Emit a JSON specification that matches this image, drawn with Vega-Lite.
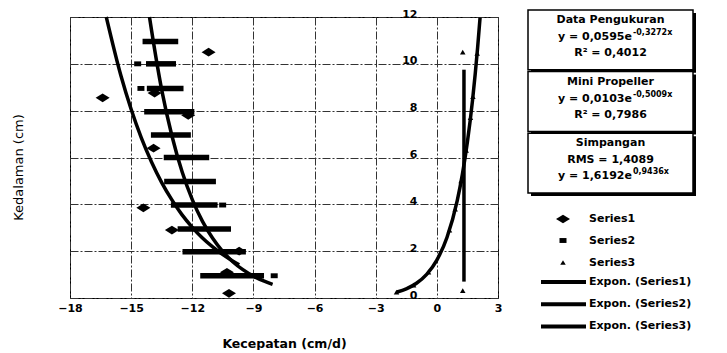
{
  "$schema": "https://vega.github.io/schema/vega-lite/v6.json",
  "background": "white",
  "padding": {"left": 11, "top": 7, "right": 0, "bottom": 0},
  "bounds": "flush",
  "spacing": 30,
  "config": {
    "font": "DejaVu Sans",
    "view": {"stroke": null},
    "axis": {"labelColor": "black", "titleColor": "black"},
    "legend": {"labelColor": "black"},
    "text": {"fontSize": 11, "fontWeight": "bold", "baseline": "middle", "color": "black"}
  },
  "datasets": {
    "bars": [
      {"y": 10.95, "xlo": -14.44, "xhi": -12.69},
      {"y": 10.0, "xlo": -14.27, "xhi": -12.8},
      {"y": 8.95, "xlo": -14.23, "xhi": -12.43},
      {"y": 7.95, "xlo": -14.36, "xhi": -11.9},
      {"y": 6.96, "xlo": -14.03, "xhi": -12.07},
      {"y": 6.0, "xlo": -13.4, "xhi": -11.17},
      {"y": 4.97, "xlo": -13.38, "xhi": -10.84},
      {"y": 3.97, "xlo": -13.05, "xhi": -10.76},
      {"y": 2.95, "xlo": -12.72, "xhi": -10.1},
      {"y": 1.98, "xlo": -12.48, "xhi": -9.37},
      {"y": 0.95, "xlo": -11.61, "xhi": -8.48}
    ],
    "vline": [{"x": 1.33, "ylo": 0.7, "yhi": 9.75}],
    "curves": [
      {"trend": "Expon. (Series1)", "x": -16.22, "y": 12.0},
      {"trend": "Expon. (Series1)", "x": -15.5, "y": 9.49},
      {"trend": "Expon. (Series1)", "x": -15, "y": 8.06},
      {"trend": "Expon. (Series1)", "x": -14.5, "y": 6.84},
      {"trend": "Expon. (Series1)", "x": -14, "y": 5.81},
      {"trend": "Expon. (Series1)", "x": -13.5, "y": 4.93},
      {"trend": "Expon. (Series1)", "x": -13, "y": 4.19},
      {"trend": "Expon. (Series1)", "x": -12.5, "y": 3.55},
      {"trend": "Expon. (Series1)", "x": -12, "y": 3.02},
      {"trend": "Expon. (Series1)", "x": -11.5, "y": 2.56},
      {"trend": "Expon. (Series1)", "x": -11, "y": 2.18},
      {"trend": "Expon. (Series1)", "x": -10.5, "y": 1.85},
      {"trend": "Expon. (Series1)", "x": -10, "y": 1.57},
      {"trend": "Expon. (Series1)", "x": -9.7, "y": 1.42},
      {"trend": "Expon. (Series2)", "x": -14.1, "y": 12.0},
      {"trend": "Expon. (Series2)", "x": -14, "y": 11.44},
      {"trend": "Expon. (Series2)", "x": -13.5, "y": 8.89},
      {"trend": "Expon. (Series2)", "x": -13, "y": 6.93},
      {"trend": "Expon. (Series2)", "x": -12.5, "y": 5.39},
      {"trend": "Expon. (Series2)", "x": -12, "y": 4.2},
      {"trend": "Expon. (Series2)", "x": -11.5, "y": 3.27},
      {"trend": "Expon. (Series2)", "x": -11, "y": 2.55},
      {"trend": "Expon. (Series2)", "x": -10.5, "y": 1.98},
      {"trend": "Expon. (Series2)", "x": -10, "y": 1.54},
      {"trend": "Expon. (Series2)", "x": -9.5, "y": 1.2},
      {"trend": "Expon. (Series2)", "x": -9, "y": 0.934},
      {"trend": "Expon. (Series2)", "x": -8.5, "y": 0.727},
      {"trend": "Expon. (Series2)", "x": -8.06, "y": 0.584},
      {"trend": "Expon. (Series3)", "x": -1.95, "y": 0.257},
      {"trend": "Expon. (Series3)", "x": -1.5, "y": 0.393},
      {"trend": "Expon. (Series3)", "x": -1, "y": 0.63},
      {"trend": "Expon. (Series3)", "x": -0.5, "y": 1.01},
      {"trend": "Expon. (Series3)", "x": 0, "y": 1.619},
      {"trend": "Expon. (Series3)", "x": 0.5, "y": 2.596},
      {"trend": "Expon. (Series3)", "x": 1, "y": 4.16},
      {"trend": "Expon. (Series3)", "x": 1.25, "y": 5.27},
      {"trend": "Expon. (Series3)", "x": 1.5, "y": 6.67},
      {"trend": "Expon. (Series3)", "x": 1.75, "y": 8.44},
      {"trend": "Expon. (Series3)", "x": 2, "y": 10.69},
      {"trend": "Expon. (Series3)", "x": 2.12, "y": 11.97}
    ],
    "points": [
      {"series": "Series1", "x": -11.2, "y": 10.5},
      {"series": "Series1", "x": -16.4, "y": 8.55},
      {"series": "Series1", "x": -13.85, "y": 8.75},
      {"series": "Series1", "x": -12.2, "y": 7.8},
      {"series": "Series1", "x": -13.9, "y": 6.4},
      {"series": "Series1", "x": -14.4, "y": 3.85},
      {"series": "Series1", "x": -13.0, "y": 2.9},
      {"series": "Series1", "x": -9.7, "y": 2.0},
      {"series": "Series1", "x": -10.3, "y": 1.1},
      {"series": "Series1", "x": -10.2, "y": 0.2},
      {"series": "Series2", "x": -14.68, "y": 10.0},
      {"series": "Series2", "x": -14.52, "y": 8.95},
      {"series": "Series2", "x": -10.51, "y": 3.97},
      {"series": "Series2", "x": -7.98, "y": 0.95},
      {"series": "Series3", "x": 1.27, "y": 10.5},
      {"series": "Series3", "x": 1.27, "y": 0.31},
      {"series": "Series3", "x": -1.98, "y": 0.25},
      {"series": "Series3", "x": -1.14, "y": 0.55},
      {"series": "Series3", "x": -0.41, "y": 1.1},
      {"series": "Series3", "x": 0.62, "y": 2.9},
      {"series": "Series3", "x": 0.9, "y": 3.8},
      {"series": "Series3", "x": 1.19, "y": 5.0},
      {"series": "Series3", "x": 1.44, "y": 6.3},
      {"series": "Series3", "x": 1.65, "y": 7.7},
      {"series": "Series3", "x": 1.77, "y": 8.6},
      {"series": "Series3", "x": 1.98, "y": 10.45}
    ],
    "boxes": [
      {"box": "Data Pengukuran", "line": 1, "text": "Data Pengukuran"},
      {"box": "Data Pengukuran", "line": 2, "text": "y = 0,0595e", "sup": "-0,3272x"},
      {"box": "Data Pengukuran", "line": 3, "text": "R² = 0,4012"},
      {"box": "Mini Propeller", "line": 1, "text": "Mini Propeller"},
      {"box": "Mini Propeller", "line": 2, "text": "y = 0,0103e", "sup": "-0,5009x"},
      {"box": "Mini Propeller", "line": 3, "text": "R² = 0,7986"},
      {"box": "Simpangan", "line": 1, "text": "Simpangan"},
      {"box": "Simpangan", "line": 2, "text": "RMS = 1,4089"},
      {"box": "Simpangan", "line": 3, "text": "y = 1,6192e", "sup": "0,9436x"}
    ]
  },
  "hconcat": [
    {
      "width": 428,
      "height": 281,
      "view": {"stroke": "black", "strokeWidth": 1},
      "layer": [
        {
          "data": {"name": "bars"},
          "mark": {"type": "rule", "strokeWidth": 5.5, "color": "black", "strokeCap": "butt"},
          "encoding": {
            "x": {
              "field": "xlo", "type": "quantitative",
              "scale": {"domain": [-18, 3], "nice": false, "zero": false},
              "axis": {
                "values": [-18, -15, -12, -9, -6, -3, 0, 3],
                "title": "Kecepatan (cm/d)",
                "grid": true, "gridDash": [8, 2, 2, 2], "gridColor": "#333", "gridWidth": 1,
                "domain": false, "ticks": false,
                "labelFontSize": 11, "labelFontWeight": "bold", "labelPadding": 4,
                "labelFlush": false, "labelOverlap": false,
                "titleFontSize": 12.5, "titleFontWeight": "bold", "titlePadding": 24
              }
            },
            "x2": {"field": "xhi"},
            "y": {
              "field": "y", "type": "quantitative",
              "scale": {"domain": [0, 12], "nice": false},
              "axis": {
                "values": [0, 2, 4, 6, 8, 10, 12],
                "offset": -366,
                "grid": true, "gridDash": [8, 2, 2, 2], "gridColor": "#333", "gridWidth": 1,
                "domain": false, "ticks": false,
                "labelFontSize": 11, "labelFontWeight": "bold", "labelPadding": 19,
                "labelOffset": -3, "labelFlush": false, "labelOverlap": false,
                "title": "Kedalaman (cm)",
                "titleX": -411, "titleY": 150, "titleAngle": -90,
                "titleFontSize": 13, "titleFontWeight": "normal"
              }
            }
          }
        },
        {
          "data": {"name": "vline"},
          "mark": {"type": "rule", "strokeWidth": 3.5, "color": "black"},
          "encoding": {
            "x": {"field": "x", "type": "quantitative"},
            "y": {"field": "ylo", "type": "quantitative"},
            "y2": {"field": "yhi"}
          }
        },
        {
          "data": {"name": "curves"},
          "mark": {"type": "line", "interpolate": "monotone", "strokeWidth": 3.5},
          "encoding": {
            "x": {"field": "x", "type": "quantitative"},
            "y": {"field": "y", "type": "quantitative"},
            "color": {
              "field": "trend", "type": "nominal",
              "scale": {"domain": ["Expon. (Series1)", "Expon. (Series2)", "Expon. (Series3)"], "range": ["black", "black", "black"]},
              "legend": {
                "title": null, "orient": "none", "legendX": 499, "legendY": 255.5,
                "symbolType": "M-3,0H3", "symbolStrokeWidth": 4, "symbolSize": 225,
                "symbolOffset": -15, "symbolStrokeColor": "black", "symbolFillColor": "transparent",
                "labelFontSize": 11, "labelFontWeight": "bold", "labelOffset": 16, "rowPadding": 4.2
              }
            }
          }
        },
        {
          "data": {"name": "points"},
          "mark": {"type": "point", "filled": true, "color": "black", "opacity": 1},
          "encoding": {
            "x": {"field": "x", "type": "quantitative"},
            "y": {"field": "y", "type": "quantitative"},
            "shape": {
              "field": "series", "type": "nominal",
              "scale": {"domain": ["Series1", "Series2", "Series3"], "range": ["M-1,0L0,-0.62L1,0L0,0.62Z", "M-1,-0.7L1,-0.7L1,0.7L-1,0.7Z", "triangle-up"]},
              "legend": {
                "title": null, "orient": "none", "legendX": 486, "legendY": 195,
                "symbolFillColor": "black", "symbolStrokeWidth": 0,
                "labelFontSize": 11, "labelFontWeight": "bold", "labelOffset": 19, "rowPadding": 10
              }
            },
            "size": {
              "field": "series", "type": "nominal",
              "scale": {"type": "ordinal", "domain": ["Series1", "Series2", "Series3"], "range": [196, 49, 30]},
              "legend": {
                "title": null, "orient": "none", "legendX": 486, "legendY": 195,
                "symbolFillColor": "black", "symbolStrokeWidth": 0,
                "labelFontSize": 11, "labelFontWeight": "bold", "labelOffset": 19, "rowPadding": 10
              }
            }
          }
        }
      ]
    },
    {
      "width": 165,
      "height": 281,
      "data": {"name": "boxes"},
      "encoding": {
        "y": {
          "field": "box", "type": "nominal",
          "scale": {"domain": ["Data Pengukuran", "Mini Propeller", "Simpangan"], "range": [-7, 176], "paddingInner": 0.03, "paddingOuter": 0},
          "axis": null
        }
      },
      "layer": [
        {
          "transform": [{"filter": "datum.line == 1"}],
          "mark": {"type": "rect", "fill": "black", "xOffset": 3, "x2Offset": 3, "yOffset": 3, "y2Offset": 3},
          "encoding": {
            "x": {"datum": 0, "type": "quantitative", "scale": {"domain": [0, 1]}, "axis": null},
            "x2": {"datum": 1}
          }
        },
        {
          "transform": [{"filter": "datum.line == 1"}],
          "mark": {"type": "rect", "fill": "white", "stroke": "black", "strokeWidth": 1.5},
          "encoding": {
            "x": {"datum": 0, "type": "quantitative"},
            "x2": {"datum": 1}
          }
        },
        {
          "transform": [{"filter": "datum.line == 1"}],
          "mark": {"type": "text", "align": "center", "dy": -20},
          "encoding": {"x": {"datum": 0.5, "type": "quantitative"}, "text": {"field": "text"}}
        },
        {
          "transform": [{"filter": "datum.line == 2 && !datum.sup"}],
          "mark": {"type": "text", "align": "center", "dy": -3},
          "encoding": {"x": {"datum": 0.5, "type": "quantitative"}, "text": {"field": "text"}}
        },
        {
          "transform": [{"filter": "datum.line == 2 && datum.sup"}],
          "mark": {"type": "text", "align": "right", "dy": -3},
          "encoding": {"x": {"datum": 0.63, "type": "quantitative"}, "text": {"field": "text"}}
        },
        {
          "transform": [{"filter": "datum.line == 2 && datum.sup"}],
          "mark": {"type": "text", "align": "left", "fontSize": 8, "dy": -7, "dx": 1},
          "encoding": {"x": {"datum": 0.63, "type": "quantitative"}, "text": {"field": "sup"}}
        },
        {
          "transform": [{"filter": "datum.line == 3 && !datum.sup"}],
          "mark": {"type": "text", "align": "center", "dy": 13},
          "encoding": {"x": {"datum": 0.5, "type": "quantitative"}, "text": {"field": "text"}}
        },
        {
          "transform": [{"filter": "datum.line == 3 && datum.sup"}],
          "mark": {"type": "text", "align": "right", "dy": 13},
          "encoding": {"x": {"datum": 0.63, "type": "quantitative"}, "text": {"field": "text"}}
        },
        {
          "transform": [{"filter": "datum.line == 3 && datum.sup"}],
          "mark": {"type": "text", "align": "left", "fontSize": 8, "dy": 9, "dx": 1},
          "encoding": {"x": {"datum": 0.63, "type": "quantitative"}, "text": {"field": "sup"}}
        }
      ]
    }
  ]
}
